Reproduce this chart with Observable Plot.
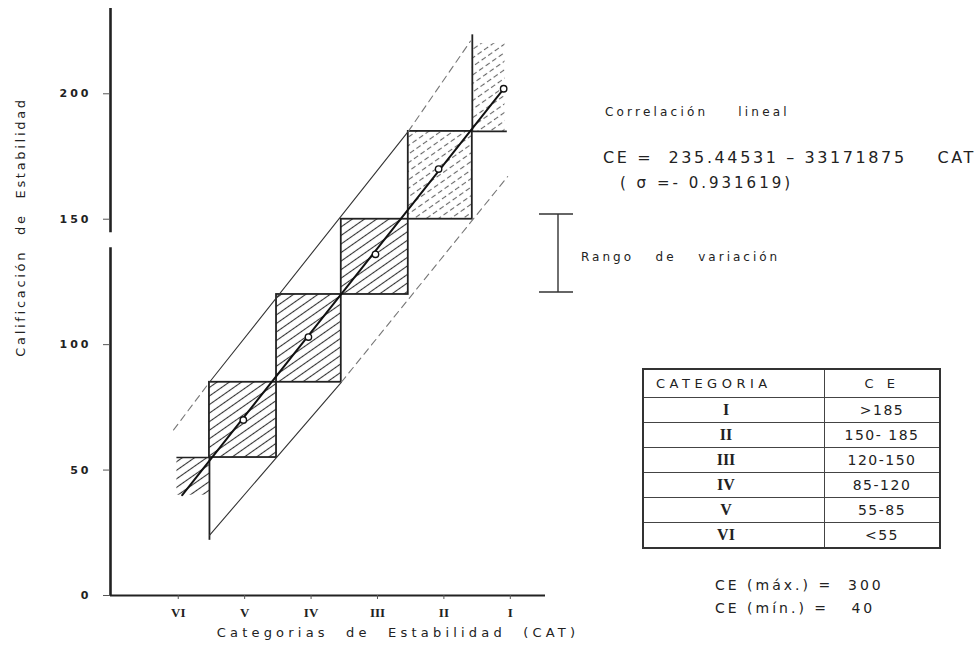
<!DOCTYPE html>
<html>
<head>
<meta charset="utf-8">
<script src="https://cdn.jsdelivr.net/npm/d3@7"></script>
<script src="https://cdn.jsdelivr.net/npm/@observablehq/plot@0.6"></script>
<style>
  html, body { margin: 0; padding: 0; background: #fff; }
  #wrap { position: relative; width: 977px; height: 652px; overflow: hidden; font-family: "DejaVu Sans", sans-serif; color: #222; }
  #wrap svg { position: absolute; left: 0; top: 0; }
  .t { position: absolute; white-space: pre; line-height: 1; transform: translateY(-50%); color: #222; }
  g[aria-label="y-axis tick label"] text { letter-spacing: 3px; }
  table.cat { position: absolute; left: 642px; top: 368px; width: 299px; height: 176px; border-collapse: collapse; border: 2px solid #333; font-family: "DejaVu Sans", sans-serif; color: #222; }
  table.cat td { border: 1.5px solid #444; padding: 0; height: 24px; font-size: 14px; letter-spacing: 1.5px; text-align: center; }
  table.cat td.l { width: 164px; }
  table.cat td.rom { font-family: "Liberation Serif", serif; font-weight: bold; font-size: 16px; padding-right: 16px; letter-spacing: 0; }
  table.cat th { border: 1.5px solid #444; font-weight: normal; font-size: 13px; letter-spacing: 4.5px; height: 25px; }
</style>
</head>
<body>
<div id="wrap"></div>
<script>
// ---- data ----
const catLabels = ["I", "II", "III", "IV", "V", "VI"];
const catValues = [1, 2, 3, 4, 5, 6];
const yTicks = [0, 50, 100, 150, 200];
const xDomain = [7.02, 0.47];
const yDomain = [0, 234];
const yAxisSegments = [[0, 138.6], [144.6, 234]];

// observed mean CE per category (circles)
const obsCat = [1.10, 2.08, 3.03, 4.04, 5.02];
const obsCE = [202, 170, 136, 103, 70];

// class limits of CE and their CAT position along the regression line
const classLimits = [55, 85, 120, 150, 185];
const classBounds = [5.53, 4.52, 3.545, 2.536, 1.572];
const dashedBoxes = ["II"];

// regression line endpoints
const regCat = [5.94, 1.10];
const regCE = [40, 202];

// range-of-variation envelope lines
const upperSolidCat = [5.53, 2.536], upperSolidCE = [85, 185];
const upperDashLowCat = [6.07, 5.53], upperDashLowCE = [66, 85];
const upperDashHighCat = [2.536, 1.60], upperDashHighCE = [185, 221];
const lowerSolidCat = [5.53, 3.545], lowerSolidCE = [24, 85];
const lowerDashCat = [3.545, 1.04], lowerDashCE = [85, 167];

// open-ended classes VI and I
const viEdgeCat = [6.02, 5.53], viTop = 55, viBottom = 22, viHatchLow = 40;
const iEdgeCat = [1.572, 1.045], iBottom = 185, iTop = 223.5, iHatchTop = 220, iHatchRight = 1.08;

// table
const tableCE = [">185", "150- 185", "120-150", "85-120", "55-85", "<55"];

const yTitle = "Calificación de Estabilidad";
const xTitle = "Categorias de Estabilidad (CAT)";

// ---- build ----
const boxes = [];
for (let i = 0; i < 4; i++) {
  boxes.push({cat: catLabels[4 - i], x1: classBounds[i], x2: classBounds[i + 1], y1: classLimits[i], y2: classLimits[i + 1]});
}
const solidBoxes = boxes.filter(b => !dashedBoxes.includes(b.cat));
const dashBoxes = boxes.filter(b => dashedBoxes.includes(b.cat));
const obs = obsCat.map((c, i) => ({cat: c, ce: obsCE[i]}));
const pts = (cs, vs) => cs.map((c, i) => ({cat: c, ce: vs[i]}));

const ink = "#222";
const chart = Plot.plot({
  width: 977, height: 652,
  marginLeft: 110, marginRight: 432, marginTop: 8, marginBottom: 57,
  x: {domain: xDomain, axis: null},
  y: {domain: yDomain, axis: null},
  style: {fontFamily: "DejaVu Sans", background: "transparent", color: ink},
  marks: [
    Plot.rect(solidBoxes, {x1: "x1", x2: "x2", y1: "y1", y2: "y2", fill: "url(#hatch)", stroke: ink, strokeWidth: 1.8}),
    Plot.rect(dashBoxes, {x1: "x1", x2: "x2", y1: "y1", y2: "y2", fill: "url(#hatchD)", stroke: ink, strokeWidth: 1.8}),
    Plot.rect([{x1: viEdgeCat[0], x2: viEdgeCat[1], y1: viHatchLow, y2: viTop}], {x1: "x1", x2: "x2", y1: "y1", y2: "y2", fill: "url(#hatch)"}),
    Plot.ruleY([viTop], {x1: viEdgeCat[0], x2: viEdgeCat[1], stroke: ink, strokeWidth: 1.6}),
    Plot.ruleX([viEdgeCat[1]], {y1: viBottom, y2: viTop, stroke: ink, strokeWidth: 1.8}),
    Plot.rect([{x1: iEdgeCat[0], x2: iHatchRight, y1: iBottom, y2: iHatchTop}], {x1: "x1", x2: "x2", y1: "y1", y2: "y2", fill: "url(#hatchD)"}),
    Plot.ruleY([iBottom], {x1: iEdgeCat[0], x2: iEdgeCat[1], stroke: ink, strokeWidth: 1.6}),
    Plot.ruleX([iEdgeCat[0]], {y1: iBottom, y2: iTop, stroke: ink, strokeWidth: 1.8}),
    Plot.line(pts(upperSolidCat, upperSolidCE), {x: "cat", y: "ce", stroke: "#333", strokeWidth: 1.1}),
    Plot.line(pts(upperDashLowCat, upperDashLowCE), {x: "cat", y: "ce", stroke: "#777", strokeWidth: 1.1, strokeDasharray: "7,5"}),
    Plot.line(pts(upperDashHighCat, upperDashHighCE), {x: "cat", y: "ce", stroke: "#777", strokeWidth: 1.1, strokeDasharray: "7,5"}),
    Plot.line(pts(lowerSolidCat, lowerSolidCE), {x: "cat", y: "ce", stroke: "#333", strokeWidth: 1.1}),
    Plot.line(pts(lowerDashCat, lowerDashCE), {x: "cat", y: "ce", stroke: "#777", strokeWidth: 1.1, strokeDasharray: "7,5"}),
    Plot.line(pts(regCat, regCE), {x: "cat", y: "ce", stroke: "#111", strokeWidth: 2}),
    Plot.dot(obs, {x: "cat", y: "ce", r: 3.2, stroke: "#111", fill: "white", strokeWidth: 1.4}),
    Plot.ruleY([0], {x1: xDomain[0], x2: xDomain[1], stroke: ink, strokeWidth: 2}),
    Plot.ruleX(yAxisSegments, {x: xDomain[0], y1: d => d[0], y2: d => d[1], stroke: ink, strokeWidth: 2.6}),
    Plot.axisY({ticks: yTicks, tickSize: 7, tickPadding: 12, fontSize: 11, fontWeight: 600, label: null, stroke: "#555"}),
    Plot.axisX({ticks: catValues, tickFormat: d => catLabels[d - 1], tickSize: 4, tickPadding: 8, fontSize: 13, fontFamily: "Liberation Serif", fontWeight: "bold", label: null, stroke: "#555"}),
    Plot.text([yTitle], {frameAnchor: "left", rotate: -90, dx: -90, dy: -75, fontSize: 13, textAnchor: "middle"}),
    Plot.text([xTitle], {frameAnchor: "bottom", dx: 70, dy: 41, fontSize: 13, textAnchor: "middle"})
  ]
});

chart.insertAdjacentHTML("afterbegin", `
<defs>
  <pattern id="hatch" patternUnits="userSpaceOnUse" width="7" height="7" patternTransform="rotate(-35)">
    <line x1="0" y1="3.5" x2="7" y2="3.5" stroke="#333" stroke-width="1.1"/>
  </pattern>
  <pattern id="hatchD" patternUnits="userSpaceOnUse" width="8" height="7" patternTransform="rotate(-35)">
    <line x1="0" y1="3.5" x2="5" y2="3.5" stroke="#666" stroke-width="1.1"/>
  </pattern>
</defs>`);

chart.querySelectorAll("text").forEach(t => {
  if (t.textContent === yTitle) { t.style.letterSpacing = "2.7px"; t.style.wordSpacing = "8px"; }
  if (t.textContent === xTitle) { t.style.letterSpacing = "4.2px"; t.style.wordSpacing = "9px"; }
});

const wrap = document.getElementById("wrap");
wrap.appendChild(chart);

function addText(txt, left, top, size, extra) {
  const d = document.createElement("div");
  d.className = "t";
  d.textContent = txt;
  d.style.left = left + "px";
  d.style.top = top + "px";
  d.style.fontSize = size + "px";
  Object.assign(d.style, extra || {});
  wrap.appendChild(d);
}
addText("Correlación  lineal", 605, 112, 12, {letterSpacing: "3.2px", wordSpacing: "8px"});
addText("CE =  235.44531 – 33171875    CAT", 603, 158, 16, {letterSpacing: "2.6px"});
addText("( σ =- 0.931619)", 620, 183, 15, {letterSpacing: "3px"});
addText("Rango  de  variación", 581, 257, 12, {letterSpacing: "3px", wordSpacing: "4px"});
addText("CE (máx.) =  300", 715, 585, 14, {letterSpacing: "3px"});
addText("CE (mín.) =   40", 715, 608, 14, {letterSpacing: "3px"});

const ns = "http://www.w3.org/2000/svg";
const rb = document.createElementNS(ns, "svg");
rb.setAttribute("width", 977); rb.setAttribute("height", 652);
rb.style.pointerEvents = "none";
rb.innerHTML = `<g stroke="#333" stroke-width="1.4">
  <line x1="558" y1="214" x2="558" y2="292"/>
  <line x1="539" y1="214" x2="573" y2="214"/>
  <line x1="539" y1="292" x2="573" y2="292"/></g>`;
wrap.appendChild(rb);

const tbl = document.createElement("table");
tbl.className = "cat";
let html = `<tr><th style="text-align:left;padding-left:12px">CATEGORIA</th><th>C E</th></tr>`;
catLabels.forEach((c, i) => {
  html += `<tr><td class="l rom">${c}</td><td>${tableCE[i]}</td></tr>`;
});
tbl.innerHTML = html;
wrap.appendChild(tbl);
</script>
</body>
</html>
